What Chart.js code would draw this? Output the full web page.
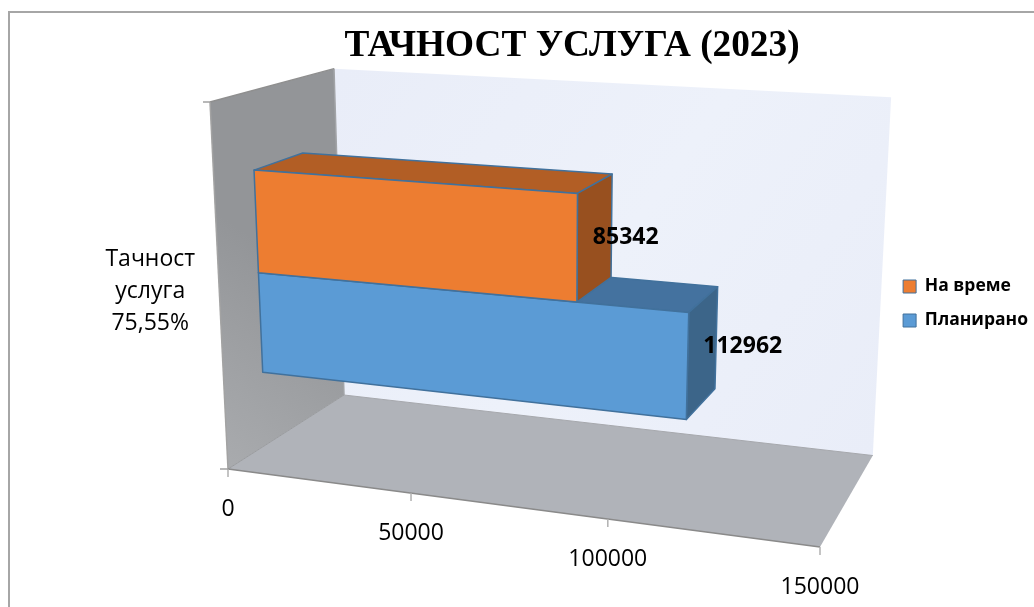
<!DOCTYPE html>
<html>
<head>
<meta charset="utf-8">
<script src="https://cdn.jsdelivr.net/npm/chart.js@4"></script>
<style>
    html, body { margin: 0; padding: 0; background: #fff; }
    canvas { display: block; }
</style>
</head>
<body>
<canvas id="ServiceChart" width="1034" height="607"></canvas>
<script>
const categories = [['Тачност', 'услуга', '75,55%']];
const seriesNames = ['На време', 'Планирано'];
const onTimeValues = [85342];
const plannedValues = [112962];
const axisMin = 0;
const axisMax = 150000;
const axisStep = 50000;

const frontColors = ['#ed7d31', '#5b9bd5'];
const topColors = ['#b25e25', '#44729f'];
const sideColors = ['#98501f', '#3c6589'];
const edgeColor = '#41719c';

// corners of the 3d box as seen in the picture (u = value, v = height, w = depth)
const cOrigin = [228, 469];
const cU = [820, 547];
const cV = [210, 102];
const cW = [344, 395];
const weightU = 0.895;
const weightV = 0.946;
const weightW = 1.13;
const barDepth = [0.3, 0.7];
const labelNudge = [[-2, 1], [1, -5]];

function project(u, v, w) {
    const k0 = 1 - u - v - w;
    const ku = weightU * u;
    const kv = weightV * v;
    const kw = weightW * w;
    const d = k0 + ku + kv + kw;
    return [
        (k0 * cOrigin[0] + ku * cU[0] + kv * cV[0] + kw * cW[0]) / d,
        (k0 * cOrigin[1] + ku * cU[1] + kv * cV[1] + kw * cW[1]) / d
    ];
}

function poly(ctx, points, fill, stroke, lineWidth) {
    ctx.beginPath();
    points.forEach((p, i) => i ? ctx.lineTo(p[0], p[1]) : ctx.moveTo(p[0], p[1]));
    ctx.closePath();
    if (fill) {
        ctx.fillStyle = fill;
        ctx.fill();
    }
    if (stroke) {
        ctx.strokeStyle = stroke;
        ctx.lineWidth = lineWidth || 1;
        ctx.lineJoin = 'round';
        ctx.stroke();
    }
}

function line(ctx, a, b, color, width) {
    ctx.beginPath();
    ctx.moveTo(a[0], a[1]);
    ctx.lineTo(b[0], b[1]);
    ctx.strokeStyle = color;
    ctx.lineWidth = width;
    ctx.stroke();
}

const box3d = {
    id: 'box3d',
    beforeDatasetsDraw(chart) {
        const ctx = chart.ctx;
        const area = chart.chartArea;
        const xScale = chart.scales.x;
        const toU = px => (px - area.left) / area.width;
        const toV = py => (area.bottom - py) / area.height;

        ctx.save();

        // frame, only left and top are in the picture
        ctx.strokeStyle = '#a6a6a6';
        ctx.lineWidth = 2;
        ctx.beginPath();
        ctx.moveTo(9, 607);
        ctx.lineTo(9, 12);
        ctx.lineTo(1034, 12);
        ctx.stroke();

        // back wall
        const backGrad = ctx.createLinearGradient(340, 70, 880, 450);
        backGrad.addColorStop(0, '#e9edf8');
        backGrad.addColorStop(0.5, '#edf1fa');
        backGrad.addColorStop(1, '#e9edf8');
        poly(ctx, [project(0, 0, 1), project(1, 0, 1), project(1, 1, 1), project(0, 1, 1)], backGrad);

        // left wall
        const wallGrad = ctx.createLinearGradient(228, 469, 344, 300);
        wallGrad.addColorStop(0, '#a9abae');
        wallGrad.addColorStop(1, '#939598');
        poly(ctx, [project(0, 0, 0), project(0, 0, 1), project(0, 1, 1), project(0, 1, 0)], wallGrad);
        line(ctx, project(0, 0, 1), project(0, 1, 1), '#a2a4a7', 1.5);
        line(ctx, project(0, 1, 0), project(0, 1, 1), '#8f8f8f', 1.5);
        line(ctx, project(0, 0, 0), project(0, 1, 0), '#a3a3a3', 1.5);

        // floor
        poly(ctx, [project(0, 0, 0), project(1, 0, 0), project(1, 0, 1), project(0, 0, 1)], '#b0b3b9');
        line(ctx, project(0, 0, 1), project(1, 0, 1), '#a6a8ad', 1);
        line(ctx, project(0, 0, 0), project(0, 0, 1), '#999b9e', 1);
        line(ctx, project(0, 0, 0), project(1, 0, 0), '#8a8a8a', 1.5);

        // value axis ticks
        ctx.font = '23px "Open Sans"';
        ctx.textAlign = 'center';
        ctx.textBaseline = 'middle';
        xScale.ticks.forEach(tick => {
            const p = project(toU(xScale.getPixelForValue(tick.value)), 0, 0);
            line(ctx, p, [p[0], p[1] + 8], '#b0b0b0', 1.5);
            ctx.fillStyle = '#000';
            ctx.fillText(String(tick.value), p[0], p[1] + 40);
        });

        // category axis
        line(ctx, [cOrigin[0] - 8, cOrigin[1]], cOrigin, '#a0a0a0', 1.5);
        line(ctx, [cV[0] - 7, cV[1]], cV, '#a0a0a0', 1.5);
        const mid = project(0, 0.5, 0);
        categories[0].forEach((text, i) => {
            ctx.fillStyle = '#000';
            ctx.fillText(text, mid[0] - 69, mid[1] - 31 + i * 32);
        });

        // bars, back one first
        for (let i = chart.data.datasets.length - 1; i >= 0; i--) {
            const bar = chart.getDatasetMeta(i).data[0];
            const u0 = toU(bar.base);
            const u1 = toU(bar.x);
            const v0 = toV(bar.y + bar.height / 2);
            const v1 = toV(bar.y - bar.height / 2);
            const w0 = barDepth[0];
            const w1 = barDepth[1];
            poly(ctx, [project(u0, v1, w0), project(u1, v1, w0), project(u1, v1, w1), project(u0, v1, w1)], topColors[i], edgeColor, 1.5);
            poly(ctx, [project(u1, v0, w0), project(u1, v0, w1), project(u1, v1, w1), project(u1, v1, w0)], sideColors[i], edgeColor, 1.5);
            poly(ctx, [project(u0, v0, w0), project(u1, v0, w0), project(u1, v1, w0), project(u0, v1, w0)], frontColors[i], edgeColor, 1.5);
        }

        // value labels sit on the end face of each bar
        ctx.font = 'bold 23px "Open Sans"';
        ctx.textAlign = 'left';
        ctx.fillStyle = '#000';
        chart.data.datasets.forEach((ds, i) => {
            const bar = chart.getDatasetMeta(i).data[0];
            const p = project(toU(bar.x), toV(bar.y), 0.5);
            ctx.fillText(String(ds.data[0]), p[0] + labelNudge[i][0], p[1] + labelNudge[i][1]);
        });

        ctx.restore();
        return false;
    }
};

const chartData = {
    labels: categories,
    datasets: [
        { label: seriesNames[0], data: onTimeValues, backgroundColor: frontColors[0], borderColor: edgeColor, borderWidth: 1 },
        { label: seriesNames[1], data: plannedValues, backgroundColor: frontColors[1], borderColor: edgeColor, borderWidth: 1 }
    ]
};

const config = {
    type: 'bar',
    data: chartData,
    options: {
        indexAxis: 'y',
        responsive: false,
        animation: false,
        layout: { padding: { left: 106, right: -4, bottom: 0 } },
        datasets: { bar: { barPercentage: 1, categoryPercentage: 4 / 7 } },
        scales: {
            x: { display: false, min: axisMin, max: axisMax, ticks: { stepSize: axisStep } },
            y: { display: false }
        },
        plugins: {
            tooltip: { enabled: false },
            title: {
                display: true,
                text: 'ТАЧНОСТ УСЛУГА (2023)',
                color: '#000',
                font: { family: '"Liberation Serif"', size: 37.3, weight: 'bold' },
                padding: { top: 24, bottom: 80 }
            },
            legend: {
                position: 'right',
                labels: {
                    color: '#000',
                    boxWidth: 13,
                    boxHeight: 13,
                    padding: 16.5,
                    font: { family: '"Open Sans"', size: 17.5, weight: 'bold' }
                }
            }
        }
    },
    plugins: [box3d]
};

const chart = new Chart(document.getElementById('ServiceChart'), config);
</script>
</body>
</html>
